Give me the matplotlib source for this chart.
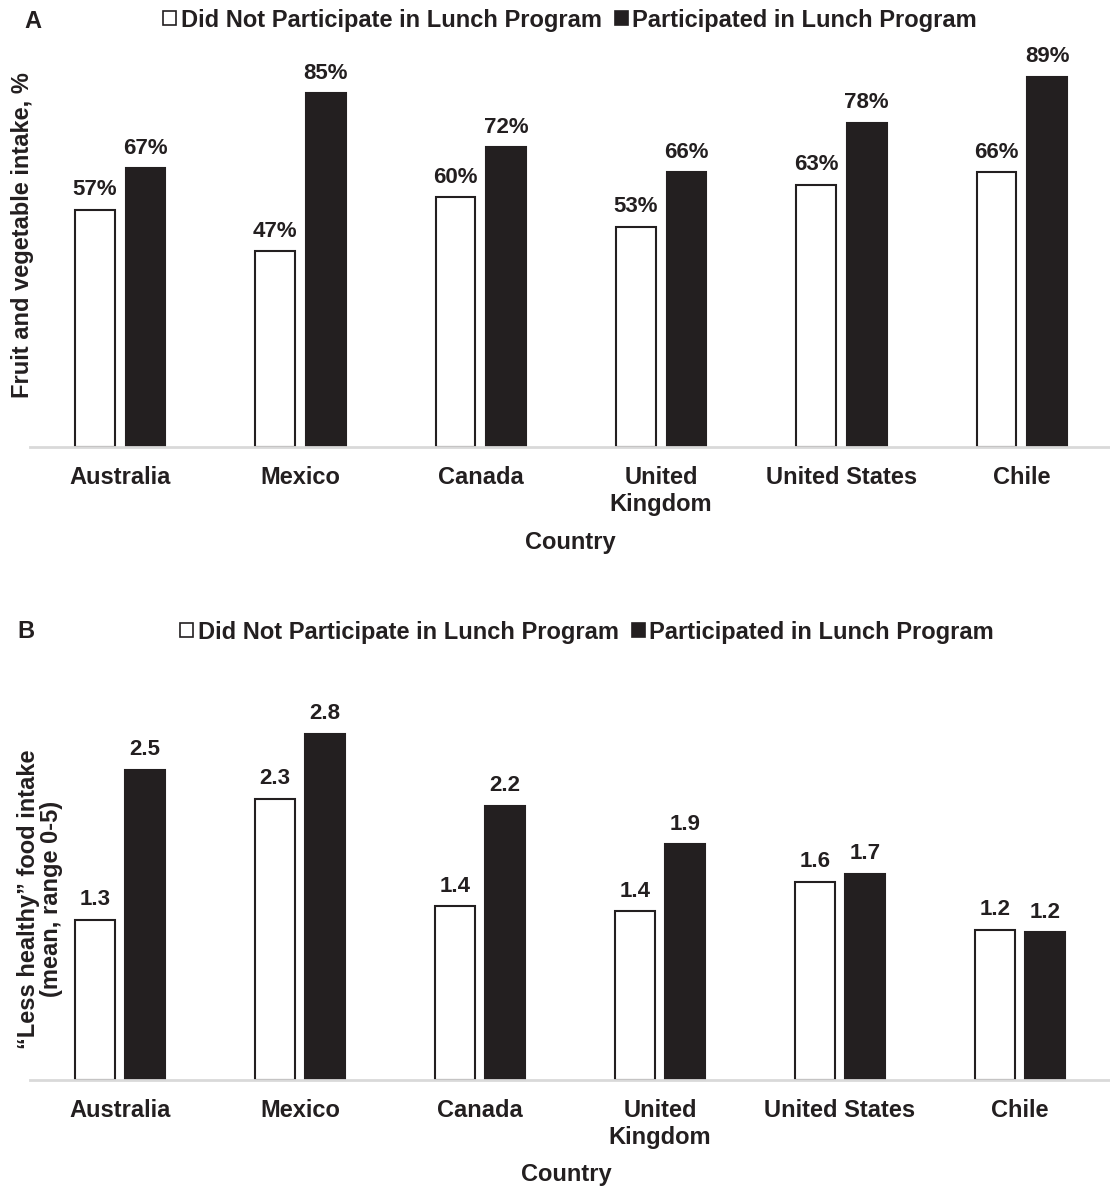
import matplotlib.pyplot as plt
import numpy as np
from matplotlib.patches import Patch

countries = ["Australia", "Mexico", "Canada", "United\nKingdom", "United States", "Chile"]

# Panel A: fruit and vegetable intake, %
fv_not_participated = [57, 47, 60, 53, 63, 66]
fv_participated = [67, 85, 72, 66, 78, 89]

# Panel B: "less healthy" food intake (mean, range 0-5)
lh_not_participated = [1.29, 2.27, 1.40, 1.36, 1.60, 1.21]
lh_participated = [2.50, 2.79, 2.21, 1.90, 1.66, 1.19]

legend_labels = ["Did Not Participate in Lunch Program", "Participated in Lunch Program"]

DARK = "#231f20"
AXIS_GREY = "#d9d9d9"
plt.rcParams['font.family'] = ['Liberation Sans', 'DejaVu Sans']
plt.rcParams['font.weight'] = 'bold'
FS = 17

W, H = 1110, 1187
fig = plt.figure(figsize=(W / 100, H / 100), dpi=100)


def px_axes(left, top, right, bottom):
    return fig.add_axes([left / W, 1 - bottom / H, (right - left) / W, (bottom - top) / H])


def draw_panel(ax, not_part, part, ymax, fmt):
    x = np.arange(len(countries))
    width = 0.22
    offset = 0.14
    b1 = ax.bar(x - offset, not_part, width, color="white", edgecolor=DARK, linewidth=1.5)
    b2 = ax.bar(x + offset, part, width, color=DARK, edgecolor=DARK, linewidth=1.5)
    for bars, vals in ((b1, not_part), (b2, part)):
        for bar, v in zip(bars, vals):
            ax.annotate(fmt(v), (bar.get_x() + bar.get_width() / 2, v),
                        xytext=(0, 7), textcoords="offset points",
                        ha="center", va="bottom", fontsize=16, fontweight="bold", color=DARK)
    ax.set_xlim(-0.5, len(countries) - 0.5)
    ax.set_ylim(0, ymax)
    ax.set_xticks(x)
    ax.set_xticklabels(countries, fontsize=FS, fontweight="bold", color=DARK, linespacing=1.2)
    ax.tick_params(axis="x", length=0, pad=14)
    ax.set_yticks([])
    for s in ("top", "right", "left"):
        ax.spines[s].set_visible(False)
    ax.spines["bottom"].set_color(AXIS_GREY)
    ax.spines["bottom"].set_linewidth(2)


handles = [Patch(facecolor="white", edgecolor=DARK, linewidth=1.2),
           Patch(facecolor=DARK, edgecolor=DARK, linewidth=1.2)]
legend_kw = dict(loc="center", ncol=2, frameon=False, fontsize=FS, handlelength=0.55,
                 handleheight=0.55, handletextpad=0.2, columnspacing=0.55, labelcolor=DARK)

# Panel A
axA = px_axes(30, 31, 1112, 447)
draw_panel(axA, fv_not_participated, fv_participated, 100, lambda v: f"{v:.0f}%")
fig.text(24 / W, 1 - 21 / H, "A", fontsize=FS, fontweight="bold", color=DARK, ha="left", va="center")
fig.text(23 / W, 1 - 235 / H, "Fruit and vegetable intake, %", rotation=90, fontsize=FS,
         fontweight="bold", color=DARK, ha="center", va="center")
fig.text(570 / W, 1 - 543 / H, "Country", fontsize=FS, fontweight="bold", color=DARK, ha="center", va="center")
fig.legend(handles, legend_labels, bbox_to_anchor=(570 / W, 1 - 20 / H), **legend_kw)

# Panel B
axB = px_axes(30, 646, 1110, 1080)
draw_panel(axB, lh_not_participated, lh_participated, 3.5, lambda v: f"{v:.1f}")
fig.text(17 / W, 1 - 631 / H, "B", fontsize=FS, fontweight="bold", color=DARK, ha="left", va="center")
fig.text(40 / W, 1 - 899 / H, "\u201cLess healthy\u201d food intake\n(mean, range 0-5)", rotation=90,
         fontsize=FS, fontweight="bold", color=DARK, ha="center", va="center", linespacing=1.0)
fig.text(566 / W, 1 - 1175 / H, "Country", fontsize=FS, fontweight="bold", color=DARK, ha="center", va="center")
fig.legend(handles, legend_labels, bbox_to_anchor=(587 / W, 1 - 632 / H), **legend_kw)

fig.savefig("out.png", dpi=100)
